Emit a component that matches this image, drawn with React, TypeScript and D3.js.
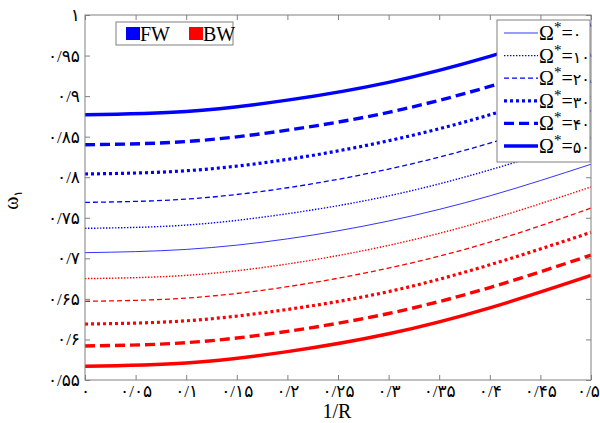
import React, { useEffect, useRef } from 'react';
import * as d3 from 'd3';

// 1/R positions where the curves were read
const invR = [0, 0.1, 0.2, 0.3, 0.4, 0.5];
const omegas = [0, 10, 20, 30, 40, 50];

// forward whirl (blue), Ω* = 0..50
const fw0 = [0.707, 0.711, 0.724, 0.746, 0.777, 0.816];
const fw10 = [0.737, 0.741, 0.755, 0.777, 0.809, 0.848];
const fw20 = [0.769, 0.773, 0.787, 0.810, 0.842, 0.882];
const fw30 = [0.804, 0.808, 0.822, 0.845, 0.877, 0.918];
const fw40 = [0.840, 0.844, 0.858, 0.880, 0.912, 0.951];
const fw50 = [0.877, 0.881, 0.895, 0.917, 0.949, 0.988];

// backward whirl (red), Ω* = 10..50 (Ω* = 0 coincides with FW)
const bw10 = [0.675, 0.679, 0.693, 0.716, 0.748, 0.788];
const bw20 = [0.647, 0.651, 0.665, 0.688, 0.720, 0.762];
const bw30 = [0.619, 0.623, 0.637, 0.659, 0.692, 0.732];
const bw40 = [0.592, 0.596, 0.610, 0.632, 0.664, 0.704];
const bw50 = [0.567, 0.571, 0.585, 0.607, 0.639, 0.679];

const xTicks = [0, 0.05, 0.1, 0.15, 0.2, 0.25, 0.3, 0.35, 0.4, 0.45, 0.5];
const yTicks = [0.55, 0.6, 0.65, 0.7, 0.75, 0.8, 0.85, 0.9, 0.95, 1];

const fwSeries = [fw0, fw10, fw20, fw30, fw40, fw50];
const bwSeries = [null, bw10, bw20, bw30, bw40, bw50];

// line style per Ω* index
const lineStyles = [
	{ width: 0.8, dash: null },
	{ width: 1.4, dash: '1.4,1.6' },
	{ width: 1.3, dash: '5,3' },
	{ width: 3.2, dash: '3,3' },
	{ width: 3.4, dash: '10,5' },
	{ width: 3.4, dash: null },
];

const W = 600;
const H = 423;
const box = { left: 85, right: 591, top: 15, bottom: 380 };
const BLUE = '#0000ff';
const RED = '#ff0000';
const GREY = '#808080';
const SERIF = '"Liberation Serif", "DejaVu Serif", serif';
const DIGITS = '"Liberation Serif", "DejaVu Sans", serif';

const fa = (s: string) => s.replace(/[0-9]/g, (d) => '۰۱۲۳۴۵۶۷۸۹'[+d]).replace('.', '/');
const fmt = (v: number) => fa(String(+v.toFixed(2)));

const drawChart = (el: SVGSVGElement) => {
	const svg = d3.select(el);
	svg.selectAll('*').remove();

	const x = d3.scaleLinear().domain([0, 0.5]).range([box.left, box.right]);
	const y = d3.scaleLinear().domain([0.55, 1]).range([box.bottom, box.top]);

	svg.append('rect').attr('width', W).attr('height', H).attr('fill', '#fff');

	const line = d3.line<number>()
		.x((_, i) => x(invR[i]))
		.y((d) => y(d))
		.curve(d3.curveNatural);

	const drawSet = (set: (number[] | null)[], color: string) => {
		set.forEach((vals, i) => {
			if (!vals) return;
			const st = lineStyles[i];
			svg.append('path')
				.attr('d', line(vals))
				.attr('fill', 'none')
				.attr('stroke', color)
				.attr('stroke-width', st.width)
				.attr('stroke-dasharray', st.dash)
				.attr('stroke-linecap', 'butt');
		});
	};
	drawSet(fwSeries, BLUE);
	drawSet(bwSeries, RED);

	// axes with inward ticks
	const styleAxis = (g) => {
		g.select('.domain').remove();
		g.selectAll('.tick line').attr('stroke', GREY);
		g.selectAll('.tick text')
			.attr('fill', '#000')
			.style('font-family', DIGITS)
			.style('font-size', '17px');
	};
	const xAxis = svg.append('g').attr('transform', `translate(0,${ box.bottom })`)
		.call(d3.axisBottom(x).tickValues(xTicks).tickSize(-5).tickPadding(5).tickFormat(fmt))
		.call(styleAxis);
	// keep the last label inside the picture
	xAxis.selectAll('.tick text').filter((d) => d === 0.5).attr('dx', -3);
	svg.append('g').attr('transform', `translate(0,${ box.top })`)
		.call(d3.axisTop(x).tickValues(xTicks).tickSize(-5).tickFormat(() => ''))
		.call(styleAxis);
	svg.append('g').attr('transform', `translate(${ box.left },0)`)
		.call(d3.axisLeft(y).tickValues(yTicks).tickSize(-5).tickPadding(5).tickFormat(fmt))
		.call(styleAxis);
	svg.append('g').attr('transform', `translate(${ box.right },0)`)
		.call(d3.axisRight(y).tickValues(yTicks).tickSize(-5).tickFormat(() => ''))
		.call(styleAxis);

	svg.append('rect')
		.attr('x', box.left).attr('y', box.top)
		.attr('width', box.right - box.left).attr('height', box.bottom - box.top)
		.attr('fill', 'none').attr('stroke', GREY).attr('stroke-width', 1);

	// axis titles
	svg.append('text')
		.attr('x', 337).attr('y', 418)
		.attr('text-anchor', 'middle')
		.style('font-family', SERIF).style('font-size', '20px')
		.text('1/R');
	const yl = svg.append('text')
		.attr('transform', 'translate(18,200) rotate(-90)')
		.attr('text-anchor', 'middle')
		.style('font-family', SERIF).style('font-size', '20px');
	yl.append('tspan').text('ω');
	yl.append('tspan').attr('dy', 4).style('font-size', '12px').style('font-family', DIGITS).text('۱');

	// Ω* legend
	const lg = { x: 497, y: 20, w: 93, h: 142 };
	svg.append('rect')
		.attr('x', lg.x).attr('y', lg.y).attr('width', lg.w).attr('height', lg.h)
		.attr('fill', '#fff').attr('stroke', GREY);
	omegas.forEach((om, i) => {
		const ry = lg.y + 13 + i * 22.6;
		const st = lineStyles[i];
		svg.append('line')
			.attr('x1', lg.x + 7).attr('x2', lg.x + 41)
			.attr('y1', ry).attr('y2', ry)
			.attr('stroke', BLUE)
			.attr('stroke-width', st.width)
			.attr('stroke-dasharray', st.dash);
		const t = svg.append('text')
			.attr('x', lg.x + 42).attr('y', ry + 7)
			.style('font-family', SERIF).style('font-size', '20px');
		t.append('tspan').text('Ω');
		t.append('tspan').attr('dy', -8).style('font-size', '15px').text('*');
		t.append('tspan').attr('dy', 8).text('=');
		t.append('tspan').style('font-family', DIGITS).style('font-size', '16px').text(fa(String(om)));
	});

	// FW / BW legend
	svg.append('rect')
		.attr('x', 116).attr('y', 22).attr('width', 117).attr('height', 23)
		.attr('fill', '#fff').attr('stroke', GREY);
	[['FW', BLUE, 126], ['BW', RED, 189]].forEach(([label, color, px]) => {
		svg.append('rect')
			.attr('x', px).attr('y', 27).attr('width', 14).attr('height', 13)
			.attr('fill', color);
		svg.append('text')
			.attr('x', +px + 14).attr('y', 41)
			.style('font-family', SERIF).style('font-size', '20px')
			.text(label);
	});
};

const App = () => {
	const ref = useRef<SVGSVGElement>(null);

	useEffect(() => {
		if (ref.current) drawChart(ref.current);
	}, []);

	return (
		<svg ref={ ref } width={ W } height={ H }
			style={ { position: 'absolute', left: 0, top: 0, display: 'block' } }/>
	);
};

export default App;
